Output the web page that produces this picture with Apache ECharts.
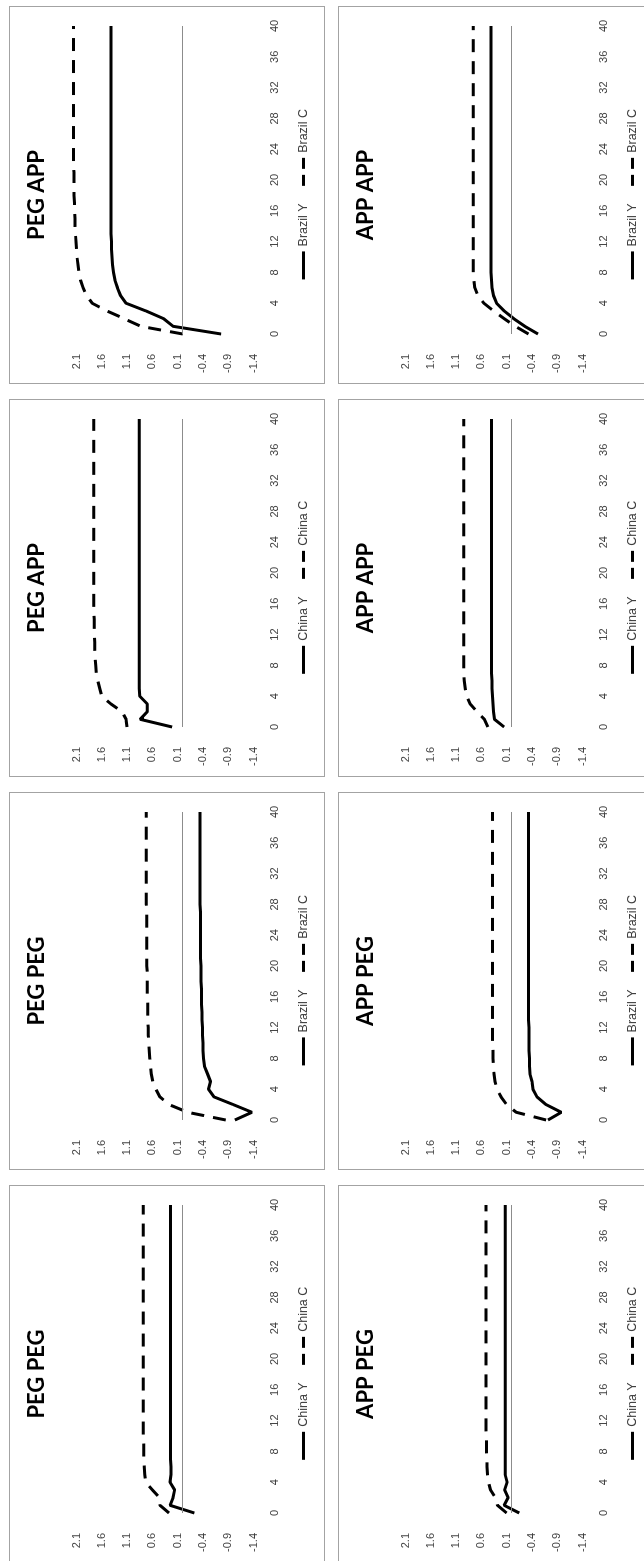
<!DOCTYPE html>
<html>
<head>
<meta charset="utf-8">
<script src="https://cdn.jsdelivr.net/npm/echarts@6/dist/echarts.min.js"></script>
<style>
  html, body { margin: 0; padding: 0; background: #fff; overflow: hidden; }
  body { width: 644px; height: 1561px; position: relative; }
  /* the sheet is laid out landscape and turned a quarter turn */
  #sheet {
    position: absolute; left: 0; top: 0;
    width: 1561px; height: 644px;
    transform-origin: 0 0;
    transform: translate(0px, 1561px) rotate(-90deg);
    background: #fff;
  }
  .panel {
    position: absolute; box-sizing: border-box;
    width: 378px; height: 316px;
    border: 1px solid #a3a3a3; background: #fff;
  }
  .panel > div { position: absolute; left: 0; top: 0; width: 376px; height: 314px; }
</style>
</head>
<body>
<div id="sheet"></div>
<script>
// quarters after the shock
const periods = Array.from({ length: 41 }, (_, i) => String(i));
const yTickValues = [-1.4, -0.9, -0.4, 0.1, 0.6, 1.1, 1.6, 2.1];

// PEG PEG
const chinaY_PEG_PEG = [-0.23, 0.25, 0.19, 0.16, 0.25, 0.23, 0.23, 0.24, 0.24, 0.24, 0.24,
  0.24, 0.24, 0.24, 0.24, 0.24, 0.24, 0.24, 0.24, 0.24, 0.24, 0.24, 0.24, 0.24, 0.24, 0.24,
  0.24, 0.24, 0.24, 0.24, 0.24, 0.24, 0.24, 0.24, 0.24, 0.24, 0.24, 0.24, 0.24, 0.24, 0.24];
const chinaC_PEG_PEG = [0.27, 0.45, 0.46, 0.60, 0.73, 0.75, 0.76, 0.77, 0.77, 0.77, 0.78,
  0.78, 0.78, 0.78, 0.78, 0.78, 0.78, 0.78, 0.78, 0.78, 0.78, 0.78, 0.78, 0.78, 0.78, 0.78,
  0.78, 0.78, 0.78, 0.78, 0.78, 0.78, 0.78, 0.78, 0.78, 0.78, 0.78, 0.78, 0.78, 0.78, 0.78];
const brazilY_PEG_PEG = [-1.03, -1.37, -1.00, -0.62, -0.51, -0.55, -0.49, -0.43, -0.41, -0.40, -0.40,
  -0.39, -0.39, -0.38, -0.38, -0.37, -0.37, -0.37, -0.36, -0.36, -0.36, -0.35, -0.35, -0.35, -0.35, -0.35,
  -0.35, -0.35, -0.34, -0.34, -0.34, -0.34, -0.34, -0.34, -0.34, -0.34, -0.34, -0.34, -0.34, -0.34, -0.34];
const brazilC_PEG_PEG = [-0.85, -0.10, 0.27, 0.45, 0.53, 0.59, 0.62, 0.64, 0.65, 0.66, 0.67,
  0.68, 0.68, 0.69, 0.69, 0.69, 0.70, 0.70, 0.70, 0.70, 0.71, 0.71, 0.71, 0.71, 0.71, 0.71,
  0.71, 0.71, 0.72, 0.72, 0.72, 0.72, 0.72, 0.72, 0.72, 0.72, 0.72, 0.72, 0.72, 0.72, 0.72];

// PEG APP
const chinaY_PEG_APP = [0.21, 0.84, 0.70, 0.70, 0.85, 0.86, 0.86, 0.86, 0.86, 0.86, 0.86,
  0.86, 0.86, 0.86, 0.86, 0.86, 0.86, 0.86, 0.86, 0.86, 0.86, 0.86, 0.86, 0.86, 0.86, 0.86,
  0.86, 0.86, 0.86, 0.86, 0.86, 0.86, 0.86, 0.86, 0.86, 0.86, 0.86, 0.86, 0.86, 0.86, 0.86];
const chinaC_PEG_APP = [1.10, 1.12, 1.20, 1.42, 1.60, 1.64, 1.68, 1.71, 1.72, 1.73, 1.74,
  1.74, 1.75, 1.75, 1.75, 1.76, 1.76, 1.76, 1.76, 1.76, 1.76, 1.76, 1.76, 1.76, 1.76, 1.76,
  1.76, 1.76, 1.76, 1.76, 1.76, 1.76, 1.76, 1.76, 1.76, 1.76, 1.76, 1.76, 1.76, 1.76, 1.76];
const brazilY_PEG_APP = [-0.76, 0.19, 0.38, 0.73, 1.12, 1.23, 1.29, 1.34, 1.37, 1.39, 1.40,
  1.41, 1.41, 1.42, 1.42, 1.42, 1.42, 1.42, 1.42, 1.42, 1.42, 1.42, 1.42, 1.42, 1.42, 1.42,
  1.42, 1.42, 1.42, 1.42, 1.42, 1.42, 1.42, 1.42, 1.42, 1.42, 1.42, 1.42, 1.42, 1.42, 1.42];
const brazilC_PEG_APP = [0.00, 0.83, 1.16, 1.50, 1.79, 1.90, 1.97, 2.02, 2.05, 2.07, 2.09,
  2.10, 2.11, 2.12, 2.13, 2.13, 2.14, 2.14, 2.15, 2.15, 2.15, 2.15, 2.16, 2.16, 2.16, 2.16,
  2.16, 2.16, 2.16, 2.16, 2.16, 2.16, 2.16, 2.16, 2.16, 2.16, 2.16, 2.16, 2.16, 2.16, 2.16];

// APP PEG
const chinaY_APP_PEG = [-0.15, 0.15, 0.07, 0.14, 0.09, 0.13, 0.13, 0.13, 0.13, 0.13, 0.13,
  0.13, 0.13, 0.13, 0.13, 0.13, 0.13, 0.13, 0.13, 0.13, 0.13, 0.13, 0.13, 0.13, 0.13, 0.13,
  0.13, 0.13, 0.13, 0.13, 0.13, 0.13, 0.13, 0.13, 0.13, 0.13, 0.13, 0.13, 0.13, 0.13, 0.13];
const chinaC_APP_PEG = [0.10, 0.28, 0.32, 0.42, 0.46, 0.48, 0.49, 0.49, 0.50, 0.50, 0.50,
  0.51, 0.51, 0.51, 0.51, 0.51, 0.51, 0.51, 0.51, 0.51, 0.51, 0.51, 0.51, 0.51, 0.51, 0.51,
  0.51, 0.51, 0.51, 0.51, 0.51, 0.51, 0.51, 0.51, 0.51, 0.51, 0.51, 0.51, 0.51, 0.51, 0.51];
const brazilY_APP_PEG = [-0.72, -0.98, -0.68, -0.50, -0.42, -0.40, -0.36, -0.35, -0.35, -0.34, -0.34,
  -0.34, -0.34, -0.33, -0.33, -0.33, -0.33, -0.33, -0.33, -0.33, -0.33, -0.33, -0.33, -0.33, -0.33, -0.33,
  -0.33, -0.33, -0.33, -0.33, -0.33, -0.33, -0.33, -0.33, -0.33, -0.33, -0.33, -0.33, -0.33, -0.33, -0.33];
const brazilC_APP_PEG = [-0.68, -0.09, 0.10, 0.21, 0.29, 0.33, 0.35, 0.36, 0.37, 0.37, 0.38,
  0.38, 0.38, 0.38, 0.38, 0.38, 0.38, 0.38, 0.38, 0.38, 0.38, 0.38, 0.38, 0.38, 0.38, 0.38,
  0.38, 0.38, 0.38, 0.38, 0.38, 0.38, 0.38, 0.38, 0.38, 0.38, 0.38, 0.38, 0.38, 0.38, 0.38];

// APP APP
const chinaY_APP_APP = [0.15, 0.34, 0.36, 0.37, 0.38, 0.39, 0.39, 0.40, 0.40, 0.40, 0.40,
  0.40, 0.40, 0.40, 0.40, 0.40, 0.40, 0.40, 0.40, 0.40, 0.40, 0.40, 0.40, 0.40, 0.40, 0.40,
  0.40, 0.40, 0.40, 0.40, 0.40, 0.40, 0.40, 0.40, 0.40, 0.40, 0.40, 0.40, 0.40, 0.40, 0.40];
const chinaC_APP_APP = [0.47, 0.54, 0.69, 0.82, 0.89, 0.92, 0.94, 0.95, 0.95, 0.95, 0.95,
  0.95, 0.95, 0.95, 0.95, 0.95, 0.95, 0.95, 0.95, 0.95, 0.95, 0.95, 0.95, 0.95, 0.95, 0.95,
  0.95, 0.95, 0.95, 0.95, 0.95, 0.95, 0.95, 0.95, 0.95, 0.95, 0.95, 0.95, 0.95, 0.95, 0.95];
const brazilY_APP_APP = [-0.52, -0.26, -0.04, 0.15, 0.30, 0.36, 0.39, 0.40, 0.41, 0.41, 0.41,
  0.41, 0.41, 0.41, 0.41, 0.41, 0.41, 0.41, 0.41, 0.41, 0.41, 0.41, 0.41, 0.41, 0.41, 0.41,
  0.41, 0.41, 0.41, 0.41, 0.41, 0.41, 0.41, 0.41, 0.41, 0.41, 0.41, 0.41, 0.41, 0.41, 0.41];
const brazilC_APP_APP = [-0.33, -0.07, 0.15, 0.36, 0.55, 0.67, 0.73, 0.75, 0.76, 0.76, 0.76,
  0.76, 0.76, 0.76, 0.76, 0.76, 0.76, 0.76, 0.76, 0.76, 0.76, 0.76, 0.76, 0.76, 0.76, 0.76,
  0.76, 0.76, 0.76, 0.76, 0.76, 0.76, 0.76, 0.76, 0.76, 0.76, 0.76, 0.76, 0.76, 0.76, 0.76];

// panel titles, series names and data, in sheet order
const panels = [
  { title: 'PEG PEG', country: 'China',  y: chinaY_PEG_PEG,  c: chinaC_PEG_PEG,  col: 0, row: 0 },
  { title: 'PEG PEG', country: 'Brazil', y: brazilY_PEG_PEG, c: brazilC_PEG_PEG, col: 1, row: 0 },
  { title: 'PEG APP', country: 'China',  y: chinaY_PEG_APP,  c: chinaC_PEG_APP,  col: 2, row: 0 },
  { title: 'PEG APP', country: 'Brazil', y: brazilY_PEG_APP, c: brazilC_PEG_APP, col: 3, row: 0 },
  { title: 'APP PEG', country: 'China',  y: chinaY_APP_PEG,  c: chinaC_APP_PEG,  col: 0, row: 1 },
  { title: 'APP PEG', country: 'Brazil', y: brazilY_APP_PEG, c: brazilC_APP_PEG, col: 1, row: 1 },
  { title: 'APP APP', country: 'China',  y: chinaY_APP_APP,  c: chinaC_APP_APP,  col: 2, row: 1 },
  { title: 'APP APP', country: 'Brazil', y: brazilY_APP_APP, c: brazilC_APP_APP, col: 3, row: 1 }
];

const colLeft = [-2, 391, 784, 1177];
const rowTop = [9, 338];
const labelFont = 'Liberation Sans, Arial, sans-serif';
const labelColor = '#404040';

const sheet = document.getElementById('sheet');

panels.forEach(p => {
  const box = document.createElement('div');
  box.className = 'panel';
  box.style.left = colLeft[p.col] + 'px';
  box.style.top = rowTop[p.row] + 'px';
  const host = document.createElement('div');
  box.appendChild(host);
  sheet.appendChild(box);

  const nameY = p.country + ' Y';
  const nameC = p.country + ' C';
  const chart = echarts.init(host, null, { renderer: 'canvas', width: 376, height: 314 });

  chart.setOption({
    animation: false,
    backgroundColor: '#fff',
    title: {
      text: p.title,
      left: 'center',
      top: 16,
      padding: 0,
      textStyle: { fontFamily: 'Lato, sans-serif', fontWeight: 'bold', fontSize: 22, color: '#000' }
    },
    legend: {
      data: [
        { name: nameY, lineStyle: { width: 3, type: 'solid', color: '#000' } },
        { name: nameC, lineStyle: { width: 3, type: [11, 6], color: '#000', cap: 'butt' } }
      ],
      left: 'center',
      top: 287,
      padding: 0,
      itemWidth: 28,
      itemHeight: 14,
      itemGap: 16,
      itemStyle: { opacity: 0 },
      textStyle: { fontFamily: labelFont, fontSize: 12.5, color: labelColor }
    },
    grid: { left: 49, right: 19, top: 66.5, bottom: 70.5, containLabel: false },
    xAxis: {
      type: 'category',
      data: periods,
      boundaryGap: false,
      axisLine: { show: false, onZero: false },
      axisTick: { show: false },
      splitLine: { show: false },
      axisLabel: {
        interval: 3, margin: 16,
        fontFamily: labelFont, fontSize: 11, color: labelColor
      }
    },
    yAxis: {
      type: 'value',
      min: -1.4,
      max: 2.1,
      axisLine: { show: false },
      axisTick: { show: false },
      splitLine: { show: false },
      axisLabel: {
        customValues: yTickValues,
        margin: 20,
        fontFamily: labelFont, fontSize: 11, color: labelColor,
        formatter: v => v.toFixed(1)
      }
    },
    series: [
      {
        name: nameY,
        type: 'line',
        data: p.y,
        symbol: 'none',
        clip: false,
        lineStyle: { color: '#000', width: 3, type: 'solid' },
        itemStyle: { color: '#000' },
        markLine: {
          silent: true,
          symbol: ['none', 'none'],
          label: { show: false },
          lineStyle: { color: '#8c8c8c', width: 1, type: 'solid' },
          data: [{ yAxis: 0 }]
        },
        z: 3
      },
      {
        name: nameC,
        type: 'line',
        data: p.c,
        symbol: 'none',
        clip: false,
        lineStyle: { color: '#000', width: 3, type: [13, 9], cap: 'butt' },
        itemStyle: { color: '#000' },
        z: 3
      }
    ]
  });
});
</script>
</body>
</html>
